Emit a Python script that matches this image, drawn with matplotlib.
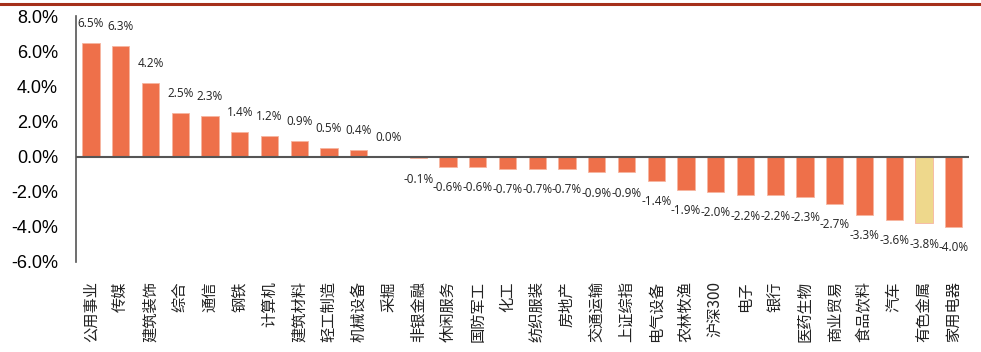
import matplotlib
matplotlib.use('Agg')
import matplotlib.pyplot as plt
from matplotlib.ticker import FuncFormatter

# data
industries = ['公用事业', '传媒', '建筑装饰', '综合', '通信', '钢铁', '计算机', '建筑材料',
              '轻工制造', '机械设备', '采掘', '非银金融', '休闲服务', '国防军工', '化工',
              '纺织服装', '房地产', '交通运输', '上证综指', '电气设备', '农林牧渔', '沪深300',
              '电子', '银行', '医药生物', '商业贸易', '食品饮料', '汽车', '有色金属', '家用电器']
returns = [6.5, 6.3, 4.2, 2.5, 2.3, 1.4, 1.2, 0.9, 0.5, 0.4, 0.0, -0.1, -0.6, -0.6, -0.7,
           -0.7, -0.7, -0.9, -0.9, -1.4, -1.9, -2.0, -2.2, -2.2, -2.3, -2.7, -3.3, -3.6, -3.8, -4.0]
highlight = '有色金属'

bar_color = '#EE704A'
hl_color = '#EED88C'

fig = plt.figure(figsize=(9.81, 3.52), dpi=100)
ax = fig.add_axes([0.0775, 0.256, 0.91, 0.698])

x = list(range(len(industries)))
colors = [hl_color if n == highlight else bar_color for n in industries]
ax.bar(x, returns, width=0.58, color=colors, edgecolor='#F7B5A0', linewidth=0.6, zorder=2)

# value labels
for i, v in enumerate(returns):
    off = -15 if v < 0 else 14
    ax.annotate('%.1f%%' % v, (i, v), xytext=(0, off), textcoords='offset points',
                ha='center', va='center', fontsize=8.5, family='Open Sans', color='#222222')

ax.axhline(0, color='#555555', linewidth=1.5, zorder=3)
ax.set_xlim(-0.5, len(industries) - 0.5)
ax.set_ylim(-6, 8)
ax.set_yticks([-6, -4, -2, 0, 2, 4, 6, 8])
ax.yaxis.set_major_formatter(FuncFormatter(lambda v, p: '%.1f%%' % v))
for s in ['top', 'right', 'bottom']:
    ax.spines[s].set_visible(False)
ax.spines['left'].set_color('#555555')
ax.spines['left'].set_linewidth(1.2)
ax.tick_params(axis='y', length=0, pad=13, labelsize=13)
for t in ax.get_yticklabels():
    t.set_family('Liberation Sans')
ax.set_xticks(x)
ax.set_xticklabels(industries, rotation=90, va='top', ha='center',
                   family=['Noto Sans CJK SC', 'DejaVu Sans'], fontsize=11, color='#222222')
ax.tick_params(axis='x', length=0, pad=14)

# red rule at the top
fig.add_artist(plt.Line2D([0, 1], [0.989, 0.989], color='#A5301A', linewidth=2.2))

plt.savefig('out.png', dpi=100)
plt.close()
